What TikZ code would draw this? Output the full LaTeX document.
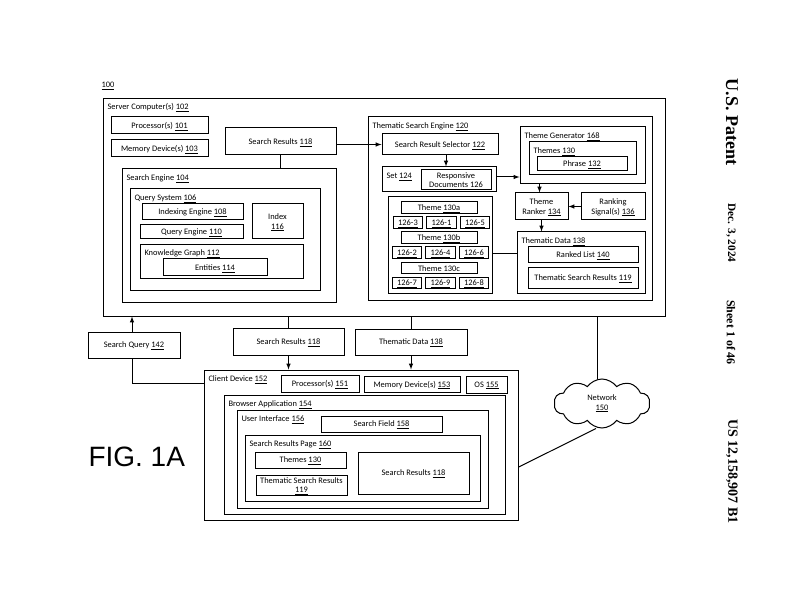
\documentclass[tikz,border=0pt]{standalone}
\usepackage{fontspec}
\setmainfont{Carlito}
\newfontfamily\figfont{Liberation Sans}
\newfontfamily\headfont{Liberation Serif}
\usetikzlibrary{matrix, shapes.symbols}

\begin{document}
\begin{tikzpicture} [x=1pt, y=-1pt, line width=1pt, font=\fontsize{8.4}{9.4}\selectfont,
    box/.style={draw, inner sep=1pt, align=center, text depth=0pt},
    title/.style={anchor=west, inner sep=0pt, text depth=0pt},
    cell/.style={draw, inner sep=0pt, minimum width=29.5pt, minimum height=11.5pt, text depth=0pt},
    head/.style={rotate=-90, inner sep=0pt, font=\headfont\bfseries\fontsize{11.3}{13}\selectfont}]
    \useasboundingbox (0,0) rectangle (792,612);

    \node[title] (lab100) at (101,85) {\underline{100}};

    \node[box, minimum width=562pt, minimum height=217.5pt] (server) at (384,207.25) {};
    \node[title] (serverlab) at (107,106.5) {Server Computer(s) \underline{102}};
    \node[box, minimum width=97pt, minimum height=17pt] (proc) at (159.5,125.5) {Processor(s) \underline{101}};
    \node[box, minimum width=97pt, minimum height=17pt] (mem) at (159.5,148.5) {Memory Device(s) \underline{103}};
    \node[box, minimum width=111pt, minimum height=27pt] (results) at (280.5,141.5) {Search Results \underline{118}};

    \node[box, minimum width=214pt, minimum height=133pt] (engine) at (229,235.5) {};
    \node[title] (enginelab) at (126,177.5) {Search Engine \underline{104}};
    \node[box, minimum width=190pt, minimum height=101pt] (querysys) at (225,239.5) {};
    \node[title] (querysyslab) at (134,197.5) {Query System \underline{106}};
    \node[box, minimum width=101pt, minimum height=16pt] (indexing) at (192.5,212) {Indexing Engine \underline{108}};
    \node[box, minimum width=103pt, minimum height=14pt] (queryeng) at (191.5,232) {Query Engine \underline{110}};
    \node[box, minimum width=51pt, minimum height=35pt] (index) at (277.5,221.5) {Index\\\underline{116}};
    \node[box, minimum width=163pt, minimum height=34pt] (graph) at (221.5,262) {};
    \node[title] (graphlab) at (144,253) {Knowledge Graph \underline{112}};
    \node[box, minimum width=104pt, minimum height=17pt] (entities) at (215,267.5) {Entities \underline{114}};

    \node[box, minimum width=284pt, minimum height=183pt] (thematic) at (510,208.5) {};
    \node[title] (thematiclab) at (372,125.5) {Thematic Search Engine \underline{120}};
    \node[box, minimum width=116pt, minimum height=21pt] (selector) at (440,144.5) {Search Result Selector \underline{122}};
    \node[box, minimum width=114pt, minimum height=25pt] (setbox) at (439,179.5) {};
    \node[title] (setlab) at (386,176) {Set \underline{124}};
    \node[box, minimum width=70pt, minimum height=20pt, inner sep=0pt] (responsive) at (456,180) {Responsive\\Documents \underline{126}};

    \node[box, minimum width=104pt, minimum height=96pt] (group) at (440,245) {};
    \node[box, minimum width=76pt, minimum height=12pt, inner sep=0pt] (themea) at (439,208) {Theme \underline{130a}};
    \matrix (rowa)[matrix of nodes, nodes={cell}, column sep=3pt] at (441.5,222.5)
    {
        \underline{126-3} & \underline{126-1} & \underline{126-5}\\
    };
    \node[box, minimum width=76pt, minimum height=12pt, inner sep=0pt] (themeb) at (439,238) {Theme \underline{130b}};
    \matrix (rowb)[matrix of nodes, nodes={cell}, column sep=3pt] at (440.5,252.5)
    {
        \underline{126-2} & \underline{126-4} & \underline{126-6}\\
    };
    \node[box, minimum width=76pt, minimum height=11pt, inner sep=0pt] (themec) at (439,268.5) {Theme \underline{130c}};
    \matrix (rowc)[matrix of nodes, nodes={cell}, column sep=3pt] at (440.5,283)
    {
        \underline{126-7} & \underline{126-9} & \underline{126-8}\\
    };

    \node[box, minimum width=125pt, minimum height=57pt] (generator) at (582.5,155.5) {};
    \node[title] (generatorlab) at (524,136) {Theme Generator \underline{168}};
    \node[box, minimum width=107pt, minimum height=33pt] (themes) at (582.5,158.5) {};
    \node[title] (themeslab) at (533,151) {Themes \underline{130}};
    \node[box, minimum width=90pt, minimum height=14pt] (phrase) at (582,164) {Phrase \underline{132}};
    \node[box, minimum width=53pt, minimum height=27pt, inner sep=0pt] (ranker) at (541.5,206.5) {Theme\\Ranker \underline{134}};
    \node[box, minimum width=64pt, minimum height=27pt, inner sep=0pt] (signals) at (613,206.5) {Ranking\\Signal(s) \underline{136}};
    \node[box, minimum width=128pt, minimum height=61pt] (data) at (581,262.5) {};
    \node[title] (datalab) at (521,241) {Thematic Data \underline{138}};
    \node[box, minimum width=110pt, minimum height=16pt] (ranked) at (583,255) {Ranked List \underline{140}};
    \node[box, minimum width=110pt, minimum height=20pt] (tsr) at (583,278) {Thematic Search Results \underline{119}};

    \node[box, minimum width=92pt, minimum height=26pt] (query) at (134,345) {Search Query \underline{142}};
    \node[box, minimum width=111pt, minimum height=27pt] (srlow) at (288.5,341.5) {Search Results \underline{118}};
    \node[box, minimum width=112pt, minimum height=26pt] (tdlow) at (411,342) {Thematic Data \underline{138}};

    \node[box, minimum width=314pt, minimum height=150pt] (client) at (361,445) {};
    \node[title] (clientlab) at (208,378.5) {Client Device \underline{152}};
    \node[box, minimum width=78pt, minimum height=17pt] (procb) at (320,383.5) {Processor(s) \underline{151}};
    \node[box, minimum width=96pt, minimum height=16pt] (memb) at (412,384) {Memory Device(s) \underline{153}};
    \node[box, minimum width=41pt, minimum height=17pt] (os) at (486.5,384.5) {OS \underline{155}};
    \node[box, minimum width=281pt, minimum height=119pt] (browser) at (364.5,454.5) {};
    \node[title] (browserlab) at (228,404) {Browser Application \underline{154}};
    \node[box, minimum width=251pt, minimum height=98pt] (ui) at (362.5,459) {};
    \node[title] (uilab) at (241,419) {User Interface \underline{156}};
    \node[box, minimum width=121pt, minimum height=16pt] (field) at (381.5,424) {Search Field \underline{158}};
    \node[box, minimum width=235pt, minimum height=66pt] (page) at (362.5,468) {};
    \node[title] (pagelab) at (249,443.5) {Search Results Page \underline{160}};
    \node[box, minimum width=91pt, minimum height=16pt] (themesb) at (300.5,460) {Themes \underline{130}};
    \node[box, minimum width=91pt, minimum height=20pt, inner sep=0pt] (tsrb) at (301.5,485) {Thematic Search Results\\\underline{119}};
    \node[box, minimum width=111pt, minimum height=42pt] (srb) at (413.5,473) {Search Results \underline{118}};

    \node[draw, cloud, cloud puffs=10, cloud puff arc=110, aspect=2, inner sep=0pt, align=center,
        minimum width=96pt, minimum height=49pt] (network) at (602,403.5) {Network\\\underline{150}};

    \node[anchor=west, inner sep=0pt, font=\figfont\fontsize{28}{30}\selectfont] (figlab) at (88,457) {FIG. 1A};

    \node[head, font=\headfont\bfseries\fontsize{18}{20}\selectfont] (patent) at (732,122) {U.S. Patent};
    \node[head] (datelab) at (731,233) {Dec. 3, 2024};
    \node[head, font=\headfont\bfseries\fontsize{12}{14}\selectfont] (sheet) at (731,332.5) {Sheet 1 of 46};
    \node[head, font=\headfont\bfseries\fontsize{14}{16}\selectfont] (number) at (732,471.5) {US 12,158,907 B1};

    \draw (results.south) -- (results.south |- engine.north);
    \draw[-latex] (results.east |- selector.west) -- (selector.west);
    \draw[-latex] ([xshift=6pt]selector.south) -- ([xshift=6pt]selector.south |- setbox.north);
    \draw[-latex] ([yshift=2.5pt]setbox.east) -- ([yshift=2.5pt]setbox.east -| generator.west);
    \draw[-latex] ([xshift=-2pt]ranker.north |- generator.south) -- ([xshift=-2pt]ranker.north);
    \draw[-latex] (signals.west) -- (ranker.east);
    \draw[-latex] (ranker.south) -- (ranker.south |- data.north);
    \draw ([yshift=-9pt]group.east) -- ([yshift=-9pt]group.east -| data.west);

    \draw[-latex] ([xshift=-2pt]query.north) -- ([xshift=-2pt]query.north |- server.south);
    \draw ([yshift=-13.5pt]client.north west) -| ([xshift=-2pt]query.south);
    \draw (srlow.north) -- (srlow.north |- server.south);
    \draw[-latex] (srlow.south) -- (srlow.south |- client.north);
    \draw (tdlow.north) -- (tdlow.north |- server.south);
    \draw[-latex] (tdlow.south) -- (tdlow.south |- client.north);
    \draw ([xshift=-5pt]network.north |- server.south) -- ([xshift=-5pt]network.north);
    \draw ([xshift=-6pt]network.south) -- (client.-8);
\end{tikzpicture}
\end{document}
